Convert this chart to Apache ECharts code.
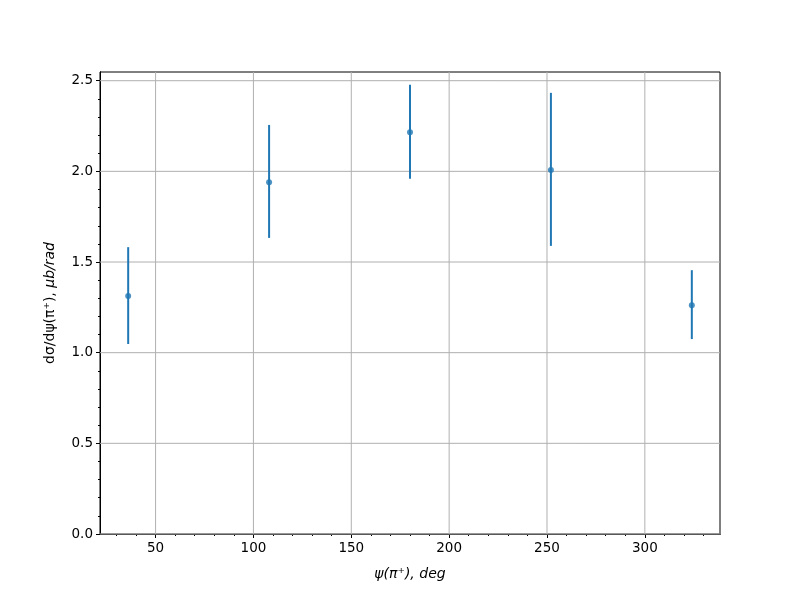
<!DOCTYPE html>
<html><head><meta charset="utf-8">
<script src="https://cdn.jsdelivr.net/npm/echarts@6/dist/echarts.min.js"></script>
<style>html,body{margin:0;padding:0;background:#fff}#c{width:800px;height:600px}</style>
</head><body><div id="c"></div>
<script>
const psiDeg = [36, 108, 180, 252, 324];
const dsigma = [1.312, 1.940, 2.216, 2.008, 1.262];
const errLow = [1.048, 1.633, 1.959, 1.589, 1.075];
const errHigh = [1.582, 2.256, 2.477, 2.433, 1.455];
const xTicks = [50, 100, 150, 200, 250, 300];
const xMinorTicks = [30, 40, 60, 70, 80, 90, 110, 120, 130, 140, 160, 170, 180, 190, 210, 220, 230, 240, 260, 270, 280, 290, 310, 320, 330];
const yTicks = [0.0, 0.5, 1.0, 1.5, 2.0, 2.5];
const yMinorTicks = [0.1, 0.2, 0.3, 0.4, 0.6, 0.7, 0.8, 0.9, 1.1, 1.2, 1.3, 1.4, 1.6, 1.7, 1.8, 1.9, 2.1, 2.2, 2.3, 2.4];

const color = '#1f77b4';
const font = 'DejaVu Sans';
const chart = echarts.init(document.getElementById('c'));
const errData = psiDeg.map((x, i) => [x, errLow[i], errHigh[i]]);
const ptData = psiDeg.map((x, i) => [x, dsigma[i]]);
const X0 = 21.6, X1 = 338.4, Y0 = 0, Y1 = 2.548;

const baseX = {
  type: 'value', min: X0, max: X1, gridIndex: 0, position: 'bottom', offset: 0,
  axisLine: {show: true, onZero: false, lineStyle: {color: '#000', width: 1}}
};
const baseY = {
  type: 'value', min: Y0, max: Y1, gridIndex: 0, position: 'left', offset: 0,
  axisLine: {show: true, onZero: false, lineStyle: {color: '#000', width: 1}}
};

chart.setOption({
  animation: false,
  backgroundColor: '#fff',
  grid: {left: 100, right: 80, top: 72, bottom: 66, show: true, borderColor: '#000', borderWidth: 1, backgroundColor: 'transparent'},
  xAxis: [
    Object.assign({}, baseX, {
      name: '{i|ψ(π⁺), deg}', nameLocation: 'middle', nameGap: 33,
      nameTextStyle: {rich: {i: {fontFamily: font, fontSize: 14, fontStyle: 'italic', color: '#000'}}},
      axisTick: {show: true, length: 4, customValues: xTicks, lineStyle: {color: '#000'}},
      axisLabel: {fontFamily: font, fontSize: 13.5, color: '#000', margin: 7, customValues: xTicks},
      splitLine: {show: false}
    }),
    Object.assign({}, baseX, {
      axisTick: {show: true, length: 2, customValues: xMinorTicks, lineStyle: {color: '#000'}},
      axisLabel: {show: false},
      splitLine: {show: false}
    })
  ],
  yAxis: [
    Object.assign({}, baseY, {
      name: '{u|dσ/dψ(π⁺), }{i|μb/rad}', nameLocation: 'middle', nameGap: 43, nameRotate: 90,
      nameTextStyle: {rich: {
        u: {fontFamily: font, fontSize: 14, color: '#000'},
        i: {fontFamily: font, fontSize: 14, fontStyle: 'italic', color: '#000'}}},
      axisTick: {show: true, length: 4, customValues: yTicks, lineStyle: {color: '#000'}},
      axisLabel: {fontFamily: font, fontSize: 13.5, color: '#000', margin: 7, customValues: yTicks,
        formatter: v => v.toFixed(1)},
      splitLine: {show: false}
    }),
    Object.assign({}, baseY, {
      axisTick: {show: true, length: 2, customValues: yMinorTicks, lineStyle: {color: '#000'}},
      axisLabel: {show: false},
      splitLine: {show: false}
    })
  ],
  series: [
    {
      type: 'custom', data: xTicks.map(v => [v]), z: 1, silent: true,
      xAxisIndex: 0, yAxisIndex: 0,
      renderItem: (params, api) => {
        const a = api.coord([api.value(0), Y0]);
        const b = api.coord([api.value(0), Y1]);
        return {type: 'line', shape: {x1: a[0], y1: a[1], x2: b[0], y2: b[1]},
          style: {stroke: '#b0b0b0', lineWidth: 1}};
      },
      encode: {x: 0}
    },
    {
      type: 'custom', data: yTicks.map(v => [X0, v]), z: 1, silent: true,
      xAxisIndex: 0, yAxisIndex: 0,
      renderItem: (params, api) => {
        const a = api.coord([X0, api.value(1)]);
        const b = api.coord([X1, api.value(1)]);
        return {type: 'line', shape: {x1: a[0], y1: a[1], x2: b[0], y2: b[1]},
          style: {stroke: '#b0b0b0', lineWidth: 1}};
      },
      encode: {y: 1}
    },
    {
      type: 'custom', data: errData, z: 3,
      xAxisIndex: 0, yAxisIndex: 0,
      renderItem: (params, api) => {
        const p1 = api.coord([api.value(0), api.value(1)]);
        const p2 = api.coord([api.value(0), api.value(2)]);
        return {type: 'line', shape: {x1: p1[0], y1: p1[1], x2: p2[0], y2: p2[1]},
          style: {stroke: color, lineWidth: 2}};
      },
      encode: {x: 0, y: [1, 2]}
    },
    {
      type: 'scatter', data: ptData, symbol: 'circle', symbolSize: 6, z: 4,
      xAxisIndex: 0, yAxisIndex: 0,
      itemStyle: {color: color}
    }
  ]
});
</script></body></html>
